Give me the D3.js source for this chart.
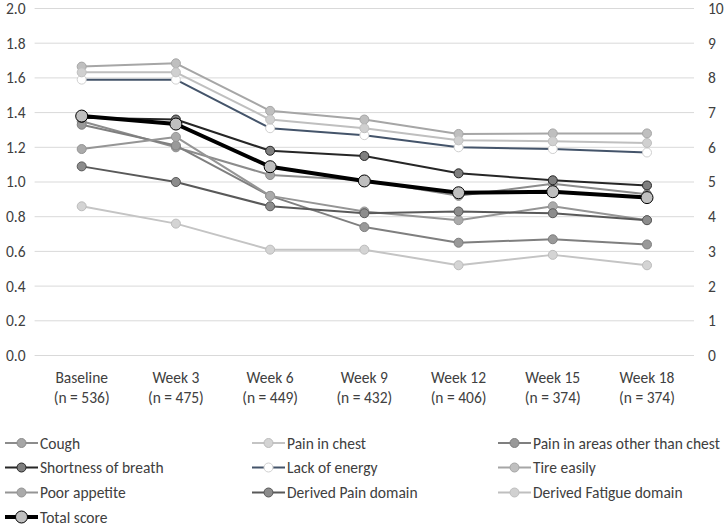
<!DOCTYPE html>
<html><head><meta charset="utf-8">
<script src="https://cdn.jsdelivr.net/npm/d3@7"></script>
<style>body{margin:0;background:#fff}text{font-family:Carlito,'Liberation Sans Narrow','Liberation Sans',Arial,sans-serif;fill:#404040}</style>
</head><body><svg id="c" width="726" height="531"></svg>
<script>
const categories = ["Baseline","Week 3","Week 6","Week 9","Week 12","Week 15","Week 18"];
const nLabels = ["(n = 536)","(n = 475)","(n = 449)","(n = 432)","(n = 406)","(n = 374)","(n = 374)"];
const leftTicks = [0,0.2,0.4,0.6,0.8,1.0,1.2,1.4,1.6,1.8,2.0];
const rightTicks = [0,1,2,3,4,5,6,7,8,9,10];

const cough = [1.35,1.20,1.04,1.01,0.92,0.99,0.93];
const painChest = [0.86,0.76,0.61,0.61,0.52,0.58,0.52];
const painOther = [1.33,1.21,0.92,0.74,0.65,0.67,0.64];
const shortness = [1.37,1.36,1.18,1.15,1.05,1.01,0.98];
const lackEnergy = [1.59,1.59,1.31,1.27,1.20,1.19,1.17];
const tireEasily = [1.665,1.684,1.41,1.36,1.277,1.28,1.28];
const poorAppetite = [1.19,1.26,0.92,0.83,0.78,0.86,0.78];
const derivedPain = [1.09,1.00,0.86,0.82,0.83,0.82,0.78];
const derivedFatigue = [1.632,1.632,1.36,1.31,1.24,1.235,1.225];
const totalScore = [6.9,6.67,5.44,5.03,4.69,4.72,4.55]; // right axis (0-10)

const seriesNames = ["Cough","Pain in chest","Pain in areas other than chest","Shortness of breath","Lack of energy","Tire easily","Poor appetite","Derived Pain domain","Derived Fatigue domain","Total score"];
const seriesData = [cough,painChest,painOther,shortness,lackEnergy,tireEasily,poorAppetite,derivedPain,derivedFatigue,totalScore];
const styles = [
 {line:"#8c8c8c",fill:"#a6a6a6",stroke:"#8c8c8c",w:2,r:4.5},
 {line:"#c4c4c4",fill:"#d4d4d4",stroke:"#bcbcbc",w:2,r:4.5},
 {line:"#7f7f7f",fill:"#999999",stroke:"#7f7f7f",w:2,r:4.5},
 {line:"#262626",fill:"#7f7f7f",stroke:"#262626",w:2,r:4.5},
 {line:"#44546a",fill:"#ffffff",stroke:"#d0d0d0",w:2,r:4.5},
 {line:"#a6a6a6",fill:"#bfbfbf",stroke:"#a6a6a6",w:2,r:4.5},
 {line:"#959595",fill:"#aaaaaa",stroke:"#959595",w:2,r:4.5},
 {line:"#595959",fill:"#8c8c8c",stroke:"#595959",w:2,r:4.5},
 {line:"#bfbfbf",fill:"#d0d0d0",stroke:"#bfbfbf",w:2,r:4.5},
 {line:"#000000",fill:"#bfbfbf",stroke:"#000000",w:4,r:6}
];
const FS = 15.5;
const FF = "Carlito,'Liberation Sans Narrow','Liberation Sans',Arial,sans-serif";

const svg = d3.select("#c");
const x = d3.scalePoint().domain(categories).range([81.7,647]);
const y = d3.scaleLinear().domain([0,2]).range([355.5,8.5]);
const yR = d3.scaleLinear().domain([0,10]).range([355.5,8.5]);

// gridlines
svg.append("g").selectAll("line").data(leftTicks).join("line")
 .attr("x1",34.6).attr("x2",694).attr("y1",d=>y(d)).attr("y2",d=>y(d))
 .attr("stroke","#d9d9d9").attr("stroke-width",1);

// left axis
const gl = svg.append("g").attr("transform","translate(25.5,0)")
 .call(d3.axisLeft(y).tickValues(leftTicks).tickFormat(d3.format(".1f")).tickSize(0).tickPadding(0));
gl.select(".domain").remove();
gl.selectAll("text").attr("font-size",FS).style("font-family",FF).attr("fill","#404040");

// right axis
const gr = svg.append("g").attr("transform","translate(708,0)")
 .call(d3.axisRight(yR).tickValues(rightTicks).tickFormat(d3.format("d")).tickSize(0).tickPadding(0));
gr.select(".domain").remove();
gr.selectAll("text").attr("font-size",FS).style("font-family",FF).attr("fill","#404040");

// x labels
const xl = svg.append("g");
categories.forEach((c,i)=>{
  xl.append("text").attr("x",x(c)).attr("y",382.5).attr("text-anchor","middle").attr("font-size",FS).text(c);
  xl.append("text").attr("x",x(c)).attr("y",402.5).attr("text-anchor","middle").attr("font-size",FS).text(nLabels[i]);
});

// series
seriesData.forEach((data,si)=>{
  const st = styles[si];
  const sc = si===9 ? yR : y;
  const pts = data.map((v,i)=>[x(categories[i]), sc(v)]);
  const g = svg.append("g");
  g.append("path").attr("d",d3.line()(pts)).attr("fill","none")
   .attr("stroke",st.line).attr("stroke-width",st.w).attr("stroke-linejoin","round");
  g.selectAll("circle").data(pts).join("circle")
   .attr("cx",d=>d[0]).attr("cy",d=>d[1]).attr("r",st.r)
   .attr("fill",st.fill).attr("stroke",st.stroke).attr("stroke-width",1);
});

// legend
const colX = [5,252,498];
const rowY = [443,467.5,492.5,517];
seriesNames.forEach((name,i)=>{
  const st = styles[i];
  const cx = colX[i%3], cy = rowY[Math.floor(i/3)];
  const g = svg.append("g");
  g.append("line").attr("x1",cx).attr("x2",cx+33).attr("y1",cy).attr("y2",cy)
   .attr("stroke",st.line).attr("stroke-width",st.w);
  g.append("circle").attr("cx",cx+16.5).attr("cy",cy).attr("r",st.r)
   .attr("fill",st.fill).attr("stroke",st.stroke).attr("stroke-width",1);
  g.append("text").attr("x",cx+35).attr("y",cy+5.5).attr("font-size",FS).text(name);
});
</script></body></html>
